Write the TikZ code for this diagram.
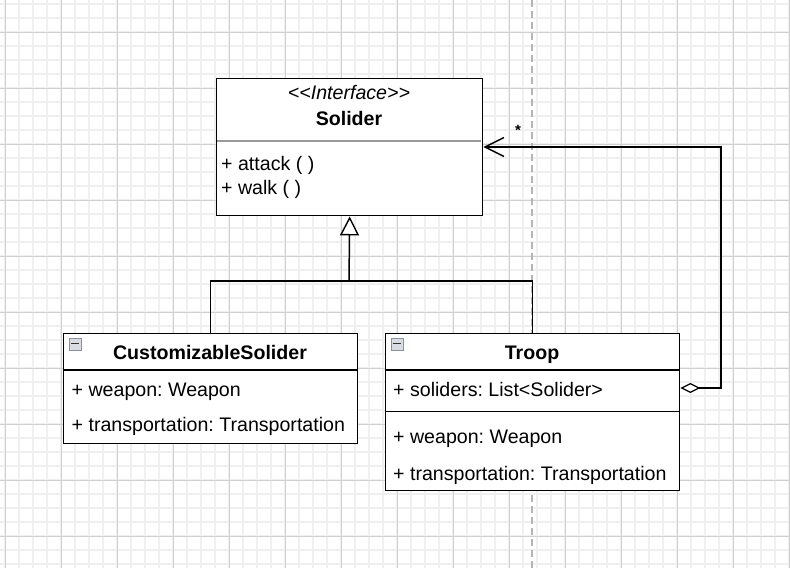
\documentclass[tikz,border=0pt]{standalone}
\usepackage{fontspec}
\setmainfont{Liberation Sans}
\usetikzlibrary{arrows.meta}
\frenchspacing
\definecolor{gmaj}{HTML}{D0D0D0}
\definecolor{gmin}{HTML}{F0F0F0}
\definecolor{dashc}{HTML}{B5B5B5}
\definecolor{sepc}{HTML}{9A9A9A}
\definecolor{iconfill}{HTML}{D9DCE3}
\definecolor{iconline}{HTML}{8A8F99}
\tikzset{
  umlbox/.style={draw=black, line width=1.4pt, fill=white, anchor=north west, inner sep=0pt},
  txt/.style={anchor=base west, inner sep=0pt, font=\fontsize{19.6}{23}\selectfont},
  ctxt/.style={anchor=base, inner sep=0pt, font=\fontsize{19.6}{23}\selectfont},
  conn/.style={line width=1.5pt, draw=black},
  sepline/.style={line width=1.2pt, draw=black},
  collapse/.style={draw=iconline, fill=iconfill, line width=0.8pt, minimum width=12pt, minimum height=12pt, inner sep=0pt, anchor=north west},
}
\begin{document}
\frenchspacing
\begin{tikzpicture}[x=1pt,y=-1pt]
\useasboundingbox (0,0) rectangle (790,568);
\fill[white] (0,0) rectangle (790,568);
% grid
\foreach \i in {0,...,57} {
  \draw[gmin, line width=1.4pt] ({5+14*\i-14},0) -- ({5+14*\i-14},568);
}
\foreach \j in {0,...,41} {
  \draw[gmin, line width=1.4pt] (0,{4+14*\j}) -- (790,{4+14*\j});
}
\foreach \i in {0,...,14} {
  \draw[gmaj, line width=0.9pt] ({5+56*\i},0) -- ({5+56*\i},568);
}
\foreach \j in {0,...,9} {
  \draw[gmaj, line width=0.9pt] (0,{32+56*\j}) -- (790,{32+56*\j});
}
% dashed guide
\draw[dashc, line width=1.4pt, dash pattern=on 7pt off 4pt] (532,0) -- (532,568);

% Solider interface
\node[umlbox, minimum width=266pt, minimum height=137pt] (sol) at (216,78) {};
\draw[sepc, line width=1.2pt] (217,141) -- (481,141);
\node[ctxt] (solst) at (349,99.5) {\itshape {<}{<}Interface{>}{>}};
\node[ctxt] (soln) at (349,125) {\bfseries Solider};
\node[txt] (sola) at (221,170) {+ attack ( )};
\node[txt] (solw) at (221,194) {+ walk ( )};

% CustomizableSolider
\node[umlbox, minimum width=294pt, minimum height=110pt] (cust) at (63,333) {};
\draw[sepline] (63,370) -- (357,370);
\node[collapse] (custi) at (68.5,337.5) {};
\draw[black!80, line width=1.6pt] (70.5,343.5) -- (78.5,343.5);
\node[ctxt] (custn) at (210,359) {\bfseries CustomizableSolider};
\node[txt] (custw) at (71.5,396.5) {+ weapon: Weapon};
\node[txt] (custt) at (71.5,431.5) {+ transportation: Transportation};

% Troop
\node[umlbox, minimum width=294pt, minimum height=157pt] (troop) at (385,333) {};
\draw[sepline] (385,370) -- (679,370);
\draw[sepline] (385,411.5) -- (679,411.5);
\node[collapse] (troopi) at (390.5,337.5) {};
\draw[black!80, line width=1.6pt] (392.5,343.5) -- (400.5,343.5);
\node[ctxt] (troopn) at (532,359) {\bfseries Troop};
\node[txt] (troops) at (393,396) {+ soliders: List{<}Solider{>}};
\node[txt] (troopw) at (393,443) {+ weapon: Weapon};
\node[txt] (troopt) at (393,480) {+ transportation: Transportation};

% generalization
\coordinate (junc) at (349,281);
\draw[conn] (cust.north) |- (junc) -| (troop.north);
\draw[conn, -{Triangle[open, fill=white, length=19pt, width=19pt, line width=1.4pt]}] (junc) -- (sol.south);

% aggregation
\coordinate (agg) at (721,388);
\draw[conn, {Diamond[fill=white, length=20pt, width=10pt, line width=1.2pt]}-{Straight Barb[length=19pt, width=19pt, line width=1.4pt]}]
  (troop.east |- agg) -- (agg) |- (sol.east |- 0,147);
\node[anchor=base, inner sep=0pt, font=\fontsize{15}{17}\selectfont\bfseries] (mult) at (518,135) {*};
\end{tikzpicture}
\end{document}
